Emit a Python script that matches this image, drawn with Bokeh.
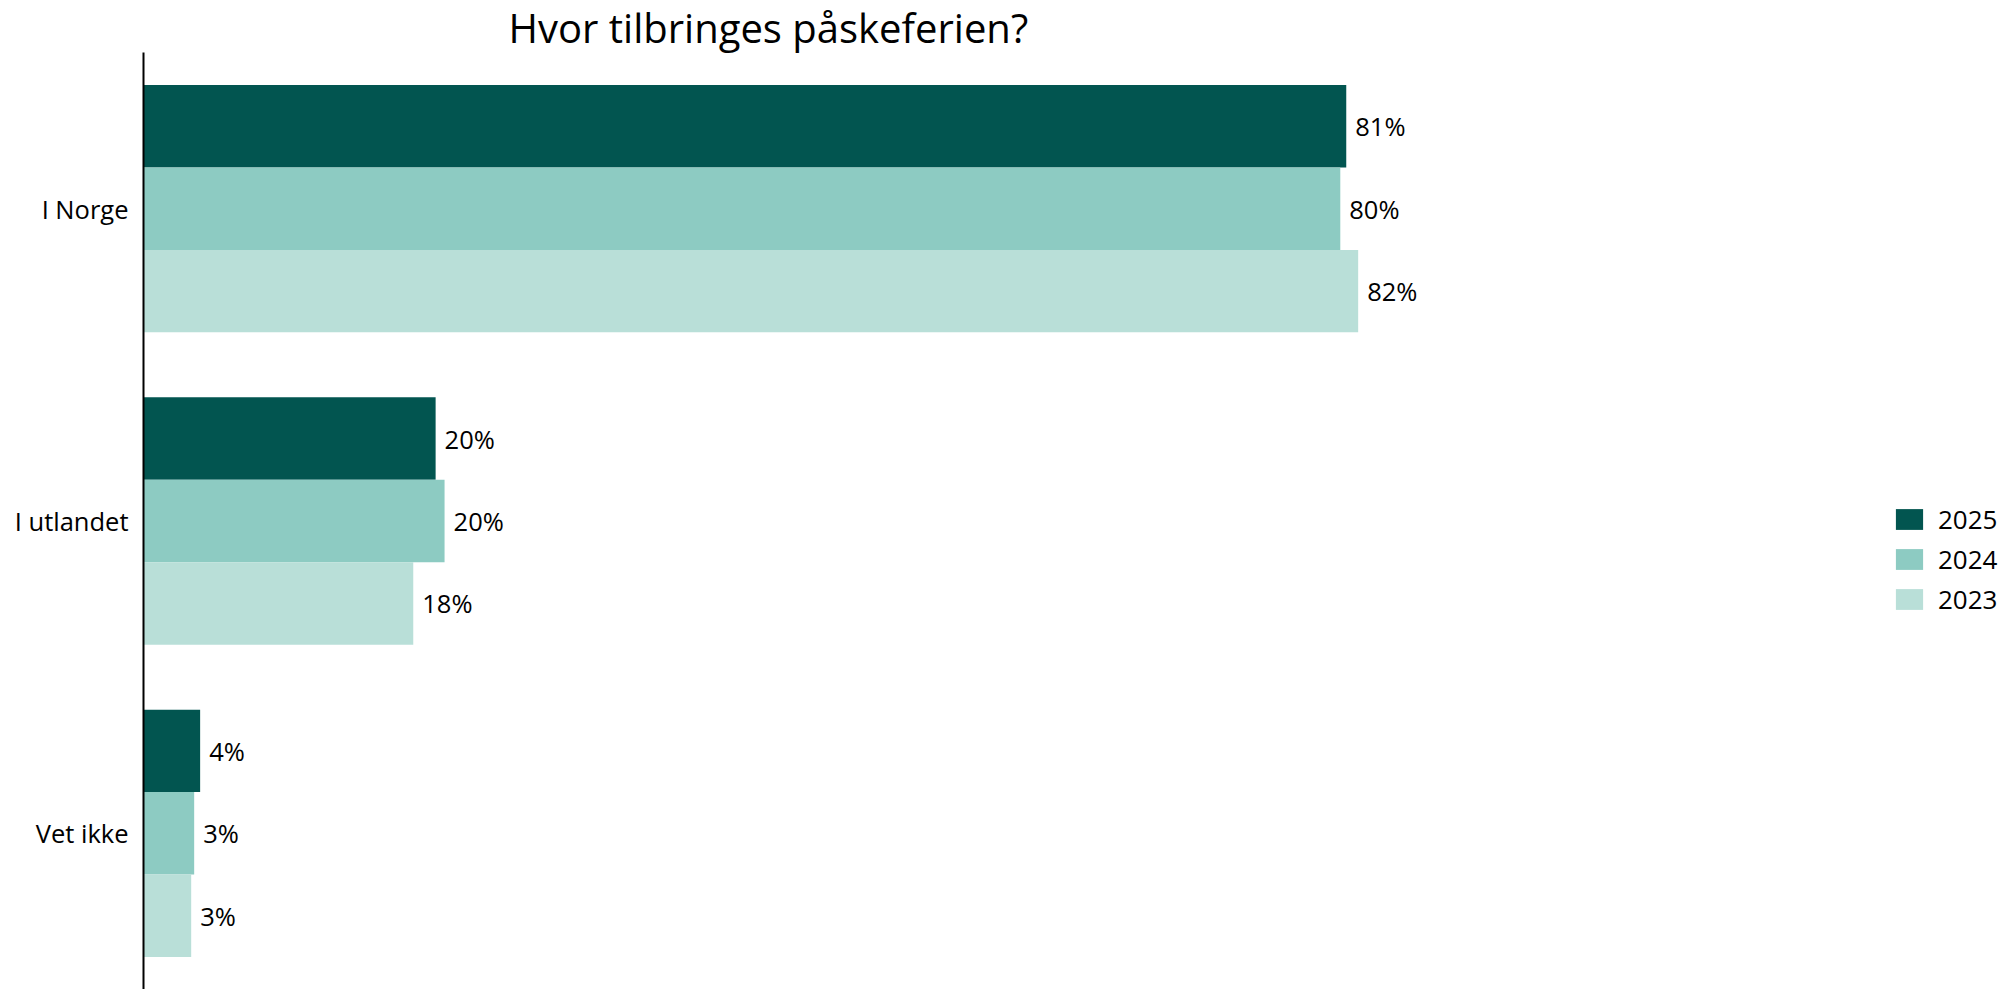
from bokeh.plotting import figure
from bokeh.models import FactorRange, Range1d, ColumnDataSource, Legend, LegendItem, Title
from bokeh.transform import dodge
from bokeh.core.properties import value
from bokeh.embed import file_html
from bokeh.resources import INLINE

# ---- data ----
categories = ["I Norge", "I utlandet", "Vet ikke"]
years = ["2025", "2024", "2023"]
values_2025 = [80.7, 19.6, 3.8]
values_2024 = [80.3, 20.2, 3.4]
values_2023 = [81.5, 18.1, 3.2]
labels_2025 = ["81%", "20%", "4%"]
labels_2024 = ["80%", "20%", "3%"]
labels_2023 = ["82%", "18%", "3%"]
title_text = "Hvor tilbringes påskeferien?"

colors = ["#025550", "#8DCBC2", "#B9DFD8"]
FONT = "Open Sans"

p = figure(
    width=2006, height=989,
    y_range=FactorRange(*reversed(categories)),
    x_range=Range1d(0, 125.0),
    x_axis_type=None,
    output_backend="svg", toolbar_location=None,
    min_border_left=143, min_border_right=0, min_border_bottom=0, min_border_top=0,
)
p.y_range.range_padding = 0

p.title = Title(text=title_text, align="left", offset=365,
                text_font=FONT, text_font_size="40px", text_font_style="normal",
                text_color="#000000", standoff=-5)

p.outline_line_color = None
p.ygrid.grid_line_color = None
p.yaxis.axis_line_width = 2
p.yaxis.axis_line_color = "#000000"
p.yaxis.major_tick_line_color = None
p.yaxis.minor_tick_line_color = None
p.yaxis.major_tick_out = 0
p.yaxis.major_label_standoff = 15
p.yaxis.major_label_text_font = FONT
p.yaxis.major_label_text_font_size = "25.5px"
p.yaxis.major_label_text_color = "#000000"

bar_h = 0.264
offsets = [bar_h, 0.0, -bar_h]
series_vals = [values_2025, values_2024, values_2023]
series_labels = [labels_2025, labels_2024, labels_2023]

items = []
for yr, vals, labs, off, col in zip(years, series_vals, series_labels, offsets, colors):
    src = ColumnDataSource(dict(cat=categories, val=vals, lab=labs))
    r = p.hbar(y=dodge("cat", off, range=p.y_range), right="val", left=0,
               height=bar_h, source=src, fill_color=col, line_color=None)
    p.text(x="val", y=dodge("cat", off, range=p.y_range), text="lab", source=src,
           x_offset=9, text_align="left", text_baseline="middle",
           text_font=value(FONT), text_font_size=value("25.5px"), text_color="#000000")
    items.append(LegendItem(label=yr, renderers=[r]))

legend = Legend(items=items, location=(1749, 372),
                glyph_width=34, glyph_height=26, label_height=26, spacing=4,
                label_standoff=12, padding=0, margin=0,
                border_line_color=None, background_fill_alpha=0,
                label_text_font=FONT, label_text_font_size="26px", label_text_color="#000000")
p.add_layout(legend, "center")

open("out.html", "w").write(file_html(p, INLINE))
